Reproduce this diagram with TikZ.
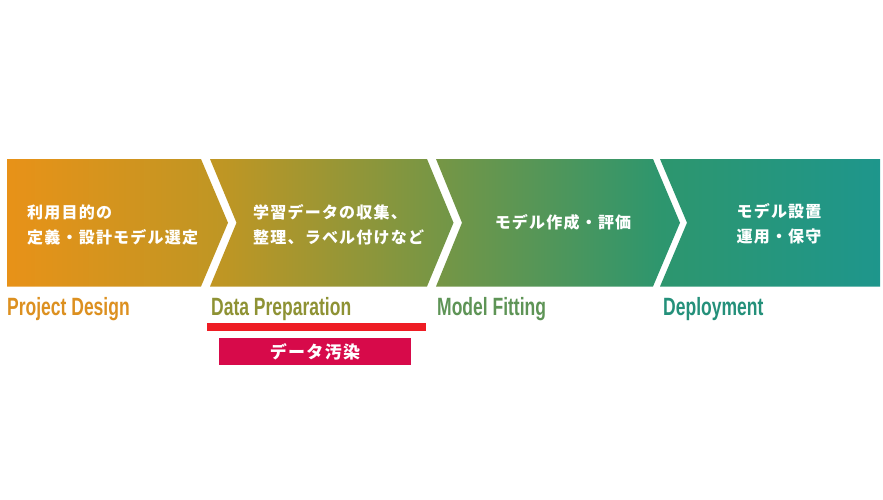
\documentclass[tikz,border=0pt]{standalone}
\usepackage{fontspec}
\usepackage{tikz}
\usetikzlibrary{calc,positioning}
\setmainfont{Liberation Sans}
\newfontfamily\jpfont{Noto Sans CJK JP}[LetterSpace=7.5]
\newfontfamily\tagfont{Liberation Sans}[FakeStretch=0.7]
\definecolor{cdesign}{RGB}{232,146,24}
\definecolor{cprep}{RGB}{190,150,36}
\definecolor{cfit}{RGB}{116,150,70}
\definecolor{cdeploy}{RGB}{45,150,110}
\definecolor{cend}{RGB}{30,150,140}
\definecolor{tdesign}{RGB}{220,144,32}
\definecolor{tprep}{RGB}{142,146,52}
\definecolor{tfit}{RGB}{94,148,86}
\definecolor{tdeploy}{RGB}{36,144,122}
\definecolor{poison}{RGB}{215,10,74}
\definecolor{redline}{RGB}{238,28,36}
\pgfdeclarehorizontalshading{flow}{100bp}{color(0bp)=(cdesign); color(25bp)=(cdesign);
  color(37.5bp)=(cprep); color(50bp)=(cfit); color(62.5bp)=(cdeploy);
  color(75bp)=(cend); color(100bp)=(cend)}
\tikzset{
  jp/.style={text=white, inner sep=0pt, font=\jpfont\bfseries\fontsize{16}{25}\selectfont},
  tag/.style={anchor=base west, inner sep=0pt, font=\tagfont\bfseries\fontsize{25}{25}\selectfont}
}

\begin{document}
\begin{tikzpicture}[x=1pt,y=-1pt]
  \useasboundingbox (0,0) rectangle (883,500);
  % chevrons
  \shade[shading=flow]
    (7,159) -- (201,159) -- (228,222.75) -- (201,286.5) -- (7,286.5) -- cycle
    (210,159) -- (427,159) -- (453.5,222.75) -- (427,286.5) -- (210,286.5) -- (236.5,222.75) -- cycle
    (436,159) -- (653,159) -- (680,222.75) -- (653,286.5) -- (436,286.5) -- (462,222.75) -- cycle
    (660,159) -- (880,159) -- (880,286.5) -- (660,286.5) -- (687,222.75) -- cycle;
  \node[jp, anchor=west, align=left] (design) at (27,224.5) {利用目的の\\定義・設計モデル選定};
  \node[jp, anchor=west, align=left] (prep) at (253,224.5) {学習データの収集、\\整理、ラベル付けなど};
  \node[jp] (fit) at (563,222) {モデル作成・評価};
  \node[jp, align=center] (deploy) at (779,224) {モデル設置\\運用・保守};
  % labels
  \node[tag, text=tdesign] (tdesign) at (7,315) {Project Design};
  \node[tag, text=tprep] (tprep) at (211,315) {Data Preparation};
  \node[tag, text=tfit] (tfit) at (437,315) {Model Fitting};
  \node[tag, text=tdeploy] (tdeploy) at (663,315) {Deployment};
  \coordinate (ul) at (207,326.8);
  \coordinate (ur) at (426,326.8);
  \draw[redline, line width=7.5pt] (ul) -- (ur);
  \node[fill=poison, text=white, minimum width=192pt, minimum height=27pt, inner sep=0pt,
    font=\jpfont\bfseries\fontsize{17}{17}\selectfont] (poison) at (315,351.5) {データ汚染};
\end{tikzpicture}
\end{document}
